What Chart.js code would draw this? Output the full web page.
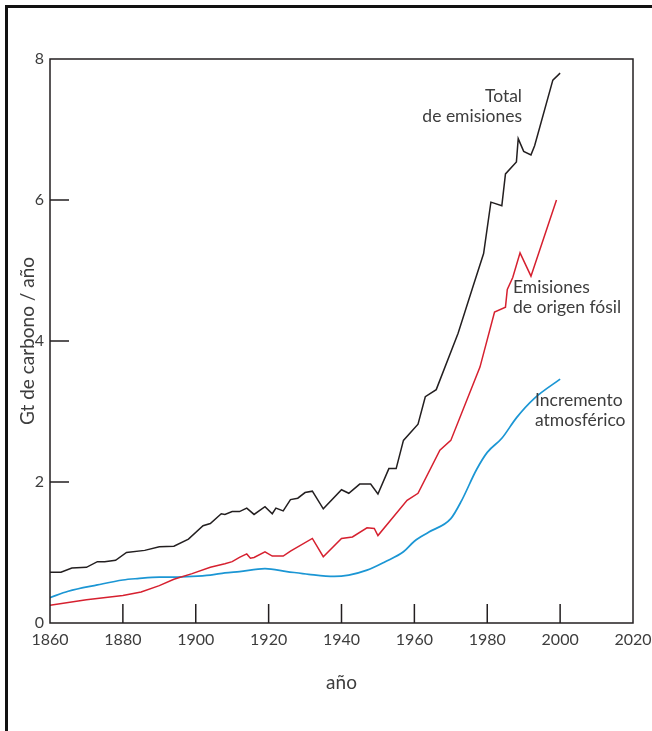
<!DOCTYPE html>
<html lang="es">
<head>
<meta charset="utf-8">
<title>Emisiones de carbono</title>
<script src="https://cdn.jsdelivr.net/npm/chart.js@4.4.1/dist/chart.umd.min.js"></script>
<style>
  html, body { margin: 0; padding: 0; background: #fff; overflow: hidden; }
  .frame {
    position: absolute; left: 5px; top: 5px; width: 700px; height: 800px;
    border-left: 3px solid #111; border-top: 3px solid #111;
  }
  #chart { position: absolute; left: 0; top: 0; }
</style>
</head>
<body>
<div class="frame"></div>
<canvas id="chart" width="652" height="731"></canvas>
<script>
/* ================================================
   Gt de carbono / año, 1860–2000
   ================================================ */

// ejes
const xTicks = [1860, 1880, 1900, 1920, 1940, 1960, 1980, 2000, 2020];
const yTicks = [0, 2, 4, 6, 8];

// Total de emisiones
const totalYears = [1860, 1863, 1866, 1870, 1873, 1875, 1878, 1881, 1886, 1890, 1894, 1898,
  1902, 1904, 1907, 1908, 1910, 1912, 1914, 1916, 1919, 1921, 1922, 1924, 1926, 1928,
  1930, 1932, 1935, 1940, 1942, 1945, 1948, 1950, 1953, 1955, 1957, 1961, 1963, 1966,
  1972, 1976, 1979, 1981, 1984, 1985, 1988, 1988.5, 1990, 1992, 1993, 1998, 2000];
const totalValues = [0.72, 0.72, 0.78, 0.79, 0.87, 0.87, 0.89, 1.00, 1.03, 1.08, 1.09, 1.19,
  1.38, 1.41, 1.55, 1.54, 1.58, 1.58, 1.63, 1.54, 1.65, 1.55, 1.63, 1.59, 1.75, 1.77,
  1.85, 1.87, 1.62, 1.89, 1.84, 1.97, 1.97, 1.83, 2.19, 2.19, 2.59, 2.82, 3.21, 3.31,
  4.11, 4.76, 5.24, 5.97, 5.92, 6.37, 6.54, 6.87, 6.69, 6.64, 6.77, 7.70, 7.80];

// Emisiones de origen fósil
const fossilYears = [1860, 1870, 1880, 1885, 1890, 1894, 1899, 1904, 1908, 1910, 1912, 1914,
  1915, 1916, 1919, 1921, 1924, 1926, 1932, 1935, 1940, 1943, 1947, 1949, 1950, 1958,
  1961, 1967, 1970, 1978, 1982, 1985, 1985.5, 1987, 1989, 1992, 1999];
const fossilValues = [0.25, 0.33, 0.39, 0.44, 0.53, 0.62, 0.70, 0.79, 0.84, 0.87, 0.93, 0.98,
  0.92, 0.93, 1.01, 0.95, 0.95, 1.02, 1.20, 0.94, 1.20, 1.22, 1.35, 1.34, 1.24, 1.74,
  1.84, 2.45, 2.59, 3.63, 4.41, 4.48, 4.73, 4.90, 5.25, 4.92, 6.00];

// Incremento atmosférico
const atmosYears = [1860, 1865, 1873, 1880, 1884, 1890, 1894, 1899, 1904, 1908, 1912, 1919,
  1925, 1931, 1938, 1942, 1947, 1952, 1957, 1960, 1964, 1970, 1973, 1977, 1980, 1984,
  1988, 1993, 2000];
const atmosValues = [0.36, 0.45, 0.54, 0.61, 0.63, 0.65, 0.65, 0.66, 0.68, 0.71, 0.73, 0.77,
  0.73, 0.69, 0.66, 0.68, 0.75, 0.87, 1.01, 1.16, 1.29, 1.48, 1.74, 2.17, 2.42, 2.62,
  2.91, 3.19, 3.46];

const INK = '#231f20';
const TEXT = '#3d3d3d';
const FONT = "Lato, 'Open Sans', sans-serif";

const toPoints = (xs, ys) => xs.map((x, i) => ({ x: x, y: ys[i] }));

// marco del gráfico, marcas interiores y rótulos de las series
const boxPlugin = {
  id: 'boxPlugin',
  afterDraw(chart) {
    const { ctx, chartArea: a, scales } = chart;
    ctx.save();
    ctx.strokeStyle = INK;
    ctx.lineWidth = 1.5;
    ctx.strokeRect(a.left, a.top, a.right - a.left, a.bottom - a.top);

    const len = 19;
    ctx.beginPath();
    xTicks.slice(1, -1).forEach(v => {
      const px = scales.x.getPixelForValue(v);
      ctx.moveTo(px, a.bottom);
      ctx.lineTo(px, a.bottom - len);
    });
    yTicks.slice(1, -1).forEach(v => {
      const py = scales.y.getPixelForValue(v);
      ctx.moveTo(a.left, py);
      ctx.lineTo(a.left + len, py);
    });
    ctx.stroke();

    ctx.fillStyle = TEXT;
    ctx.font = '17.5px ' + FONT;
    ctx.textBaseline = 'middle';
    ctx.textAlign = 'right';
    ctx.fillText('Total', 522, 96);
    ctx.fillText('de emisiones', 522, 116);
    ctx.textAlign = 'left';
    ctx.fillText('Emisiones', 513, 287);
    ctx.fillText('de origen fósil', 513, 307);
    ctx.fillText('Incremento', 535, 400);
    ctx.fillText('atmosférico', 535, 420);
    ctx.restore();
  }
};

new Chart(document.getElementById('chart'), {
  type: 'line',
  data: {
    datasets: [
      {
        label: 'Total de emisiones',
        data: toPoints(totalYears, totalValues),
        borderColor: INK,
        borderWidth: 1.5,
        tension: 0
      },
      {
        label: 'Emisiones de origen fósil',
        data: toPoints(fossilYears, fossilValues),
        borderColor: '#d6202f',
        borderWidth: 1.5,
        tension: 0
      },
      {
        label: 'Incremento atmosférico',
        data: toPoints(atmosYears, atmosValues),
        borderColor: '#1b96d4',
        borderWidth: 1.7,
        cubicInterpolationMode: 'monotone'
      }
    ]
  },
  options: {
    responsive: false,
    animation: false,
    devicePixelRatio: 1,
    layout: { padding: { left: 0, top: 59, right: 19, bottom: 0 } },
    elements: { point: { radius: 0 } },
    plugins: {
      legend: { display: false },
      tooltip: { enabled: false }
    },
    scales: {
      x: {
        type: 'linear',
        min: 1860,
        max: 2020,
        afterBuildTicks: s => { s.ticks = xTicks.map(v => ({ value: v })); },
        afterFit: s => { s.height = 108; s.paddingLeft = 0; s.paddingRight = 0; },
        grid: { display: false, drawTicks: false },
        border: { display: false },
        ticks: {
          autoSkip: false,
          maxRotation: 0,
          padding: 7,
          color: TEXT,
          font: { family: FONT, size: 16 },
          callback: v => String(v)
        },
        title: {
          display: true,
          text: 'año',
          color: TEXT,
          font: { family: FONT, size: 19 },
          padding: { top: 0, bottom: 37 }
        }
      },
      y: {
        min: 0,
        max: 8,
        afterBuildTicks: s => { s.ticks = yTicks.map(v => ({ value: v })); },
        afterFit: s => { s.width = 50; },
        grid: { display: false, drawTicks: false },
        border: { display: false },
        ticks: {
          padding: 6,
          color: TEXT,
          font: { family: FONT, size: 16 },
          callback: v => String(v)
        },
        title: {
          display: true,
          text: 'Gt de carbono / año',
          color: TEXT,
          font: { family: FONT, size: 19 },
          padding: { top: 16, bottom: 0 }
        }
      }
    }
  },
  plugins: [boxPlugin]
});
</script>
</body>
</html>
